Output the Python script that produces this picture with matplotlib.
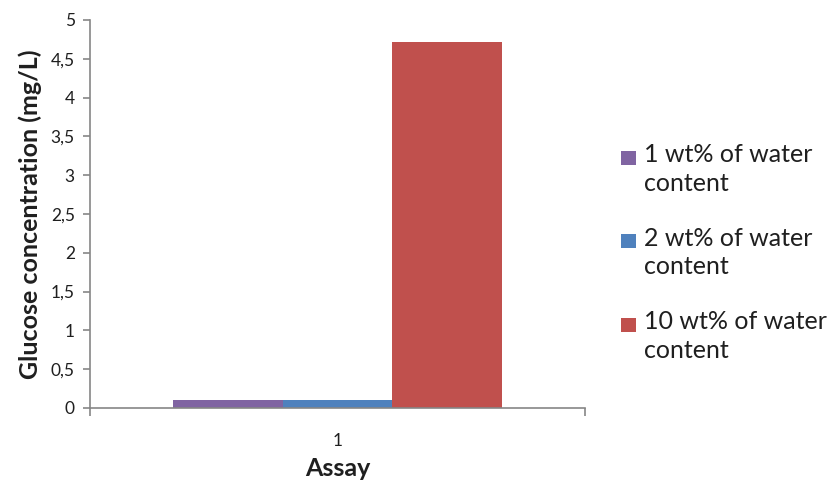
import numpy as np
import matplotlib.pyplot as plt
from matplotlib.patches import Rectangle

# glucose released per water content, single assay
assay = [1]
series_labels = ["1 wt% of water\ncontent", "2 wt% of water\ncontent", "10 wt% of water\ncontent"]
glucose = [0.10, 0.10, 4.72]
colors = ["#8064a2", "#4f81bd", "#c0504d"]

yticks = np.arange(0, 5.01, 0.5)
ytick_labels = [("%g" % v).replace(".", ",") for v in yticks]

plt.rcParams["font.family"] = ["Lato", "DejaVu Sans"]

W, H = 839, 483
fig = plt.figure(figsize=(W / 100, H / 100), dpi=100)
ax = fig.add_axes([90 / W, 1 - 408 / H, 495 / W, 388 / H])

bw = 0.222
x0 = np.array(assay, dtype=float)
for i, (val, col) in enumerate(zip(glucose, colors)):
    ax.bar(x0 + (i - 1) * bw, val, width=bw, color=col, linewidth=0)

ax.set_xlim(0.5, 1.5)
ax.set_ylim(0, 5)
ax.set_yticks(yticks)
ax.set_yticklabels(ytick_labels)
ax.set_xticks(assay)
ax.set_xticklabels([str(a) for a in assay])

grey = "#868686"
txt = "#1f1f1f"
for s in ["top", "right"]:
    ax.spines[s].set_visible(False)
for s in ["left", "bottom"]:
    ax.spines[s].set_color(grey)
    ax.spines[s].set_linewidth(1.2)

ax.tick_params(axis="y", length=5, color=grey, width=1.2, labelsize=12.5, labelcolor=txt, pad=6)
ax.tick_params(axis="x", length=0, labelsize=12.5, labelcolor=txt, pad=18)
# category boundary ticks at both ends of the x axis
ax.set_xticks([0.5, 1.5], minor=True)
ax.tick_params(axis="x", which="minor", length=6, color=grey, width=1.2)

ax.set_ylabel("Glucose concentration (mg/L)", fontsize=18, fontweight="bold", labelpad=6, color=txt)
ax.set_xlabel("Assay", fontsize=18, fontweight="bold", labelpad=6, color=txt)

# legend: square key aligned with the first line of each two-line label
for i, (lab, col) in enumerate(zip(series_labels, colors)):
    top = 151 + 83.5 * i
    fig.add_artist(Rectangle((621 / W, 1 - (top + 14) / H), 15 / W, 14 / H,
                             transform=fig.transFigure, facecolor=col, edgecolor="none"))
    fig.text(644 / W, 1 - (top - 8) / H, lab, fontsize=18, color=txt,
             va="top", ha="left", linespacing=1.3)

fig.savefig("out.png", dpi=100)
